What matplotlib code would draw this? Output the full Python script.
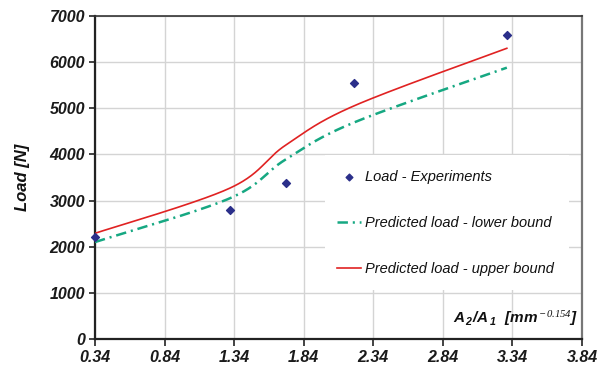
import numpy as np
import matplotlib
matplotlib.use("Agg")
import matplotlib.pyplot as plt
from matplotlib.patches import Rectangle

plt.rcParams["font.family"] = ["Liberation Sans", "DejaVu Sans"]
plt.rcParams["mathtext.fontset"] = "custom"
plt.rcParams["mathtext.it"] = "Liberation Sans:italic:bold"
plt.rcParams["mathtext.rm"] = "Liberation Sans:italic:bold"
plt.rcParams["mathtext.sf"] = "Liberation Serif:italic"
plt.rcParams["lines.scale_dashes"] = False

# Experimental loads
exp_ratio = [0.34, 1.31, 1.71, 2.20, 3.30]
exp_load = [2200, 2800, 3370, 5550, 6590]

# Predicted loads (lower and upper bound) at the same ratios
pred_lower = [2100, 3050, 3890, 4690, 5880]
pred_upper = [2290, 3270, 4200, 5050, 6300]

x_ticks = [0.34, 0.84, 1.34, 1.84, 2.34, 2.84, 3.34, 3.84]
y_ticks = [0, 1000, 2000, 3000, 4000, 5000, 6000, 7000]


def smooth_curve(xs, ys, n=60):
    """Bezier smoothing through the points (Catmull-Rom style control points)."""
    P = np.column_stack([xs, ys]).astype(float)
    pts = np.vstack([P[0], P, P[-1]])
    out = []
    t = np.linspace(0, 1, n)[:, None]
    for i in range(1, len(pts) - 2):
        p0, p1, p2, p3 = pts[i - 1], pts[i], pts[i + 1], pts[i + 2]
        c1 = p1 + (p2 - p0) / 6.0
        c2 = p2 - (p3 - p1) / 6.0
        seg = ((1 - t) ** 3) * p1 + 3 * ((1 - t) ** 2) * t * c1 + 3 * (1 - t) * t ** 2 * c2 + t ** 3 * p2
        out.append(seg if i == 1 else seg[1:])
    out = np.vstack(out)
    return out[:, 0], out[:, 1]


fig = plt.figure(figsize=(6.08, 3.71), dpi=100)
ax = fig.add_axes([0.1562, 0.0863, 0.8010, 0.8706])

ax.set_xlim(0.34, 3.84)
ax.set_ylim(0, 7000)
ax.set_xticks(x_ticks)
ax.set_yticks(y_ticks)
ax.set_xticklabels([f"{v:.2f}" for v in x_ticks])
ax.set_axisbelow(True)
ax.grid(True, color="#d4d4d4", linewidth=1.0)

for lab in ax.get_xticklabels() + ax.get_yticklabels():
    lab.set_fontstyle("italic")
    lab.set_fontweight("bold")
    lab.set_fontsize(11.5)
    lab.set_color("#1a1a1a")

ax.tick_params(axis="x", direction="out", length=5, width=1.2, pad=3, color="#222222")
ax.tick_params(axis="y", direction="out", length=4, width=1.2, pad=3, color="#222222")

ax.spines["left"].set_linewidth(1.6)
ax.spines["bottom"].set_linewidth(1.6)
ax.spines["left"].set_color("#222222")
ax.spines["bottom"].set_color("#222222")
ax.spines["top"].set_linewidth(1.2)
ax.spines["top"].set_color("#333333")
ax.spines["right"].set_linewidth(1.6)
ax.spines["right"].set_color("#777777")

# White panel behind the legend
ax.add_patch(Rectangle((0.472, 0.152), 0.501, 0.418, transform=ax.transAxes,
                       facecolor="white", edgecolor="none", zorder=1.5))

xl, yl = smooth_curve(exp_ratio, pred_lower)
xu, yu = smooth_curve(exp_ratio, pred_upper)

ax.scatter(exp_ratio, exp_load, marker="D", s=16, color="#2b2f8a", zorder=5,
           clip_on=False, label="Load - Experiments")
ax.plot(xl, yl, color="#16a882", linewidth=1.8, zorder=3,
        linestyle=(0, (7.5, 3.5, 1.5, 3.5)), label="Predicted load - lower bound")
ax.plot(xu, yu, color="#e02222", linewidth=1.2, zorder=4,
        label="Predicted load - upper bound")

leg = ax.legend(loc="upper left", bbox_to_anchor=(0.497, 0.524), frameon=False,
                prop={"style": "italic", "size": 10.5}, labelspacing=2.2,
                handlelength=1.65, handletextpad=0.25, borderpad=0,
                borderaxespad=0, scatterpoints=1, markerscale=0.85)
for t in leg.get_texts():
    t.set_color("#111111")

ax.set_ylabel("Load [N]", fontsize=12, fontstyle="italic", fontweight="bold",
              labelpad=14, color="#111111")
ax.text(0.992, 0.035, r"$A_{\,2}/A_{\,1}\ \ [mm^{\,\mathsf{-0.154}}]$", transform=ax.transAxes,
        ha="right", va="bottom", fontsize=11, color="#111111")

fig.savefig("out.png", dpi=100)
